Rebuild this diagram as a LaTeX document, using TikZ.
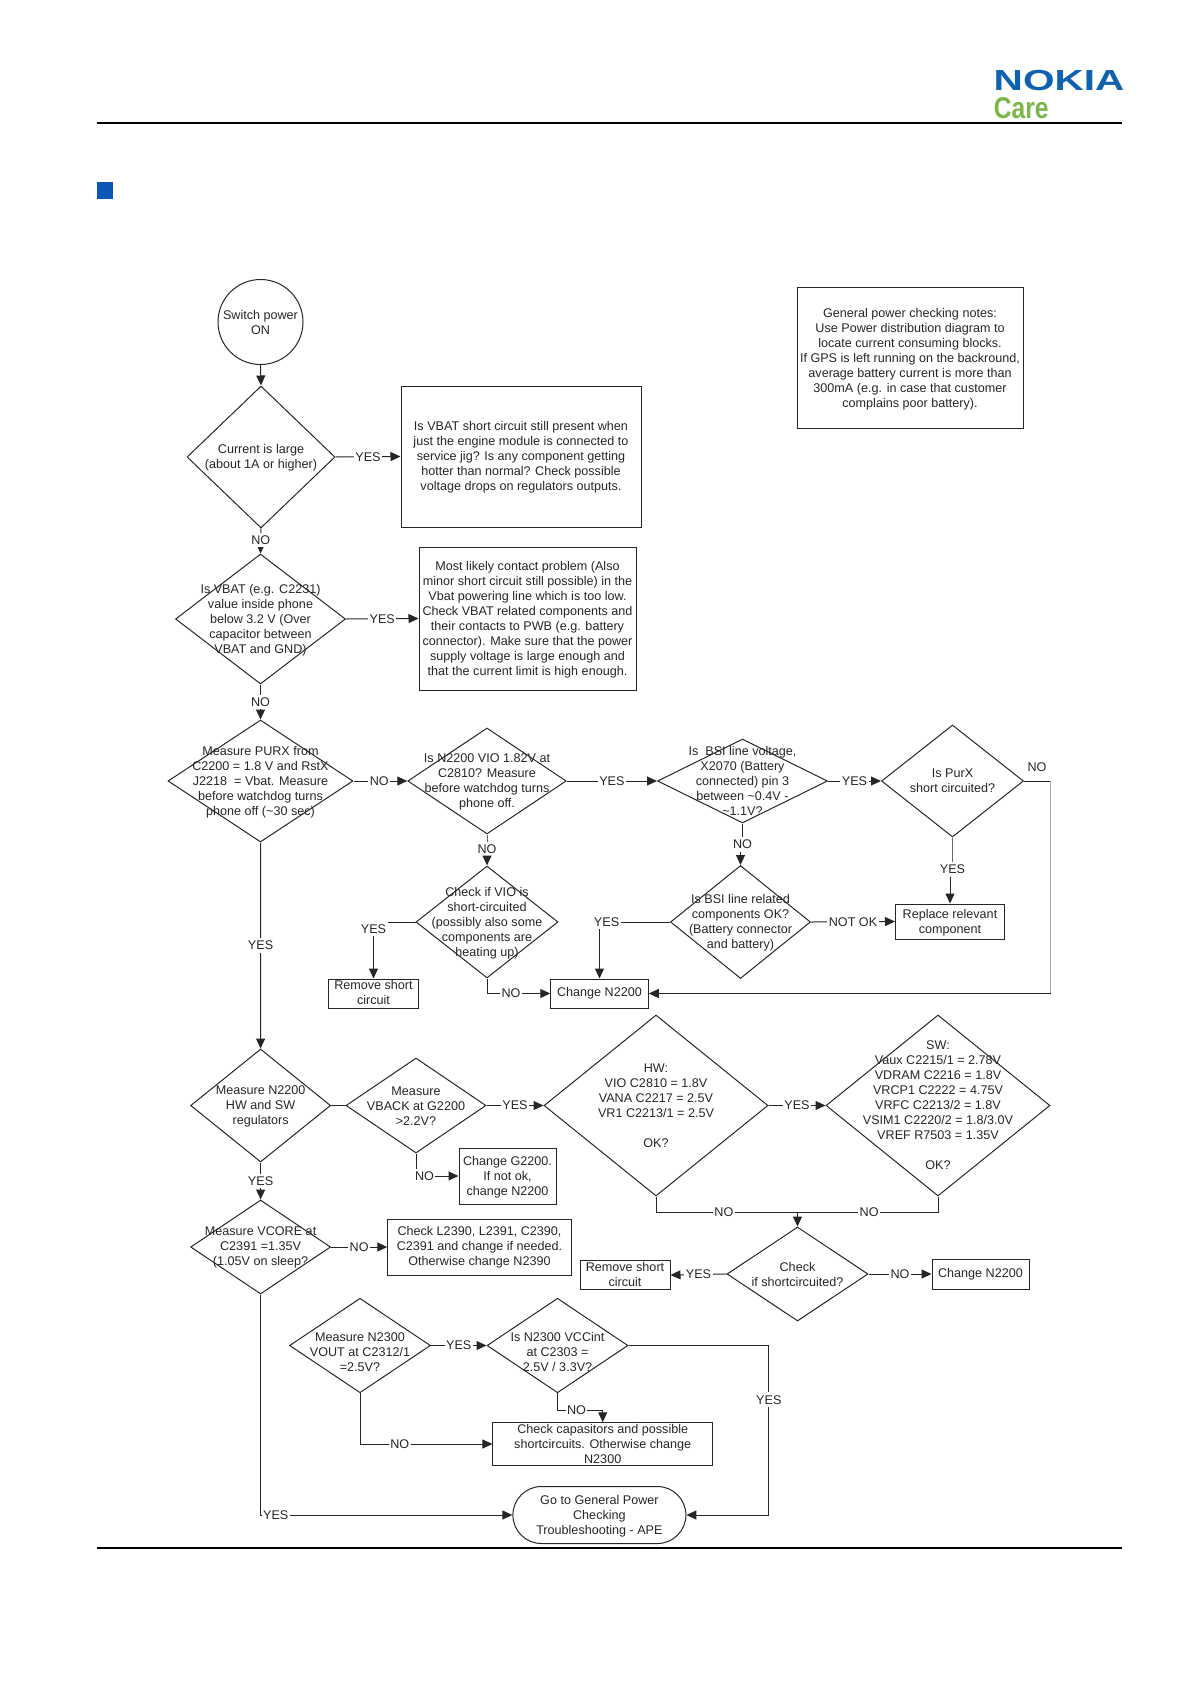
\documentclass[tikz,border=0pt]{standalone}
\usepackage{fontspec}
\setmainfont{Liberation Sans}
\usetikzlibrary{shapes.geometric,shapes.misc,arrows.meta}
\definecolor{nokiablue}{HTML}{0F62AE}
\definecolor{caregreen}{HTML}{7AB648}
\definecolor{markblue}{HTML}{0B57B8}
\tikzset{
    txt/.style={align=center, inner sep=0pt, text=black!85, font=\fontsize{12.6}{15}\selectfont},
    dtxt/.style={txt, yshift=-0.8pt},
    dia/.style 2 args={diamond, draw, inner sep=0pt, minimum width=#1pt, minimum height=#2pt},
    box/.style 2 args={rectangle, draw, txt, minimum width=#1pt, minimum height=#2pt},
    lab/.style={txt, fill=white, inner xsep=1.5pt, inner ysep=3pt},
    line/.style={line width=1pt, black!85},
    arr/.style={line, -{Triangle[length=10pt,width=9pt]}},
}
\begin{document}
\begin{tikzpicture}[x=1pt, y=-1pt, every node/.append style={line width=1pt, black!85}]
    \useasboundingbox (0,0) rectangle (1191,1684);

    % page head and foot
    \draw[line width=1.5pt, black] (96.5,123) -- (1122,123);
    \draw[line width=1.5pt, black] (96.5,1548) -- (1122,1548);
    \fill[markblue] (96.5,182) rectangle (113,199);
    \node[anchor=base west, inner sep=0pt, xscale=1.4, text=nokiablue, font=\bfseries\fontsize{29}{29}\selectfont] (logo) at (993,90.5) {NOKIA};
    \node[anchor=base west, inner sep=0pt, xscale=0.82, text=caregreen, font=\bfseries\fontsize{30}{30}\selectfont] (care) at (993.5,118) {Care};

    % top column
    \node[circle, draw, txt, minimum size=85pt] (S1) at (260.5,322) {Switch power\\ON};
    \node[dia={148}{142}, label={[dtxt]center:{Current is large\\(about 1A or higher)}}] (D1) at (261,457) {};
    \node[box={240}{141}, label={[txt, yshift=-1pt]center:{Is VBAT short circuit still present when\\just the engine module is connected to\\service jig? Is any component getting\\hotter than normal? Check possible\\voltage drops on regulators outputs.}}] (B1) at (521,456.5) {};
    \node[box={226}{141}, label={[txt, yshift=-2pt]center:{General power checking notes:\\Use Power distribution diagram to\\locate current consuming blocks.\\If GPS is left running on the backround,\\average battery current is more than\\300mA (e.g. in case that customer\\complains poor battery).}}] (N1) at (910,357.5) {};
    \node[dia={170}{130}, label={[dtxt]center:{Is VBAT (e.g. C2231)\\value inside phone\\below 3.2 V (Over\\capacitor between\\VBAT and GND)}}] (D2) at (260.5,619) {};
    \node[box={217}{143}, label={[txt, yshift=-1pt]center:{Most likely contact problem (Also\\minor short circuit still possible) in the\\Vbat powering line which is too low.\\Check VBAT related components and\\their contacts to PWB (e.g. battery\\connector). Make sure that the power\\supply voltage is large enough and\\that the current limit is high enough.}}] (B2) at (527.5,618.5) {};

    % PURX row
    \node[dia={185}{122}, label={[dtxt]center:{Measure PURX from\\C2200 = 1.8 V and RstX\\J2218\ \ = Vbat. Measure\\before watchdog turns\\phone off (\textasciitilde30 sec)}}] (D3) at (260.5,781) {};
    \node[dia={158.5}{106}, label={[dtxt]center:{Is N2200 VIO 1.82V at\\C2810? Measure\\before watchdog turns\\phone off.}}] (D4) at (487,781) {};
    \node[dia={170}{84}, label={[txt]center:{Is\ \ BSI line voltage,\\X2070 (Battery\\connected) pin 3\\between \textasciitilde0.4V -\\\textasciitilde1.1V?}}] (D5) at (742.5,781) {};
    \node[dia={142}{112}, label={[txt]center:{Is PurX\\short circuited?}}] (D6) at (952.5,781) {};
    \node[dia={142}{112}, label={[dtxt]center:{Check if VIO is\\short-circuited\\(possibly also some\\components are\\heating up)}}] (D7) at (487,922) {};
    \node[dia={140}{113}, label={[dtxt]center:{Is BSI line related\\components OK?\\(Battery connector\\and battery)}}] (D8) at (740.5,922) {};
    \node[box={89.5}{29}, label={[txt, yshift=1.5pt]center:{Remove short\\circuit}}] (R1) at (373.5,993.5) {};
    \node[box={97.5}{29}] (C1) at (599.5,993.5) {Change N2200};
    \node[box={109}{35}, label={[txt, yshift=-1pt]center:{Replace relevant\\component}}] (R2) at (950,921.5) {};

    % regulators row
    \node[dia={140}{113}, label={[dtxt]center:{Measure N2200\\HW and SW\\regulators}}] (D9) at (260.6,1105.5) {};
    \node[dia={140}{95}, label={[dtxt]center:{Measure\\VBACK at G2200\\>2.2V?}}] (D10) at (416,1105.5) {};
    \node[dia={224}{181}, label={[txt]center:{HW:\\VIO C2810 = 1.8V\\VANA C2217 = 2.5V\\VR1 C2213/1 = 2.5V\\[15pt]OK?}}] (D11) at (656,1105.5) {};
    \node[dia={224}{181}, label={[txt]center:{SW:\\Vaux C2215/1 = 2.78V\\VDRAM C2216 = 1.8V\\VRCP1 C2222 = 4.75V\\VRFC C2213/2 = 1.8V\\VSIM1 C2220/2 = 1.8/3.0V\\VREF R7503 = 1.35V\\[15pt]OK?}}] (D12) at (938,1105.5) {};
    \node[box={97}{56}, label={[txt, yshift=-1pt]center:{Change G2200.\\If not ok,\\change N2200}}] (G1) at (507.5,1176) {};
    \node[dia={140}{94}, label={[dtxt]center:{Measure VCORE at\\C2391 =1.35V\\(1.05V on sleep?}}] (D14) at (260.6,1247) {};
    \node[box={183.5}{56}] (L1) at (479.5,1247) {Check L2390, L2391, C2390,\\C2391 and change if needed.\\Otherwise change N2390};
    \node[dia={141}{94}, label={[txt]center:{Check\\if shortcircuited?}}] (D13) at (797.5,1274) {};
    \node[box={90}{28.5}, label={[txt, yshift=1pt]center:{Remove short\\circuit}}] (R3) at (625,1275) {};
    \node[box={97}{30}] (C2) at (980.5,1274) {Change N2200};

    % N2300 row
    \node[dia={141}{94.5}, label={[txt, yshift=-6.4pt]center:{Measure N2300\\VOUT at C2312/1\\=2.5V?}}] (D15) at (360,1345.5) {};
    \node[dia={141}{94.5}, label={[txt, yshift=-6.4pt]center:{Is N2300 VCCint\\at C2303 =\\2.5V / 3.3V?}}] (D16) at (557.5,1345.5) {};
    \node[box={219.5}{42.5}] (K1) at (602.7,1444) {Check capasitors and possible\\shortcircuits. Otherwise change\\N2300};
    \node[rounded rectangle, draw, minimum width=173pt, minimum height=57pt, inner xsep=6pt, label={[txt, yshift=-1pt]center:{Go to General Power\\Checking\\Troubleshooting - APE}}] (T1) at (599.4,1515) {\rule{161pt}{0pt}};

    \coordinate (c1) at (1050.6,781);
    \coordinate (c2) at (1050.6,993.5);
    \coordinate (c3) at (797.5,1212);
    \coordinate (c4) at (768.8,1515);
    \coordinate (c5) at (602.7,1410);

    % connectors
    \draw[arr] (S1.south) -- (D1.north);
    \draw[arr] (D1.east) -- node[lab] (y1) {YES} (B1.west);
    \draw[arr] (D1.south) -- node[lab, pos=.46] (n1) {NO} (D2.north);
    \draw[arr] (D2.east) -- node[lab] (y2) {YES} (B2.west);
    \draw[arr] (D2.south) -- node[lab] (n2) {NO} (D3.north);
    \draw[arr] (D3.east) -- node[lab, pos=.48] (n3) {NO} (D4.west);
    \draw[arr] (D4.east) -- node[lab] (y3) {YES} (D5.west);
    \draw[arr] (D5.east) -- node[lab] (y4) {YES} (D6.west);
    \draw[line] (D6.east) -- (c1);
    \node[lab] (n4) at (1037,767) {NO};
    \draw[line, line width=0.5pt, black!35] (c1) -- (c2);
    \draw[arr] (c2) -- (C1.east);
    \draw[line, line width=0.6pt, black!60] (D4.south) -- ++(0,15) node[lab] (n5) {NO};
    \draw[arr] (n5.south) -- (D7.north);
    \draw[line] (D5.south) -- ++(0,21) node[lab] (n6) {NO};
    \draw[arr] (D8.north |- n6.south) -- (D8.north);
    \draw[line, line width=0.6pt, black!60] (D6.south) -- ++(0,32) node[lab] (y5) {YES};
    \draw[arr] (R2.north |- y5.south) -- (R2.north);
    \draw[arr] (D7.west) -| node[lab, pos=.56] (y6) {YES} (R1.north);
    \draw[arr] (D7.south) |- node[lab, pos=.69] (n7) {NO} (C1.west);
    \draw[arr] (D8.west) -| node[lab, pos=.45] (y7) {YES} (C1.north);
    \draw[arr] (D8.east) -- node[lab] (n8) {NOT OK} (R2.west);
    \draw[arr] (D3.south) -- node[lab] (y8) {YES} (D9.north);
    \draw[line] (D9.east) -- (D10.west);
    \draw[arr] (D10.east) -- node[lab] (y9) {YES} (D11.west);
    \draw[arr] (D11.east) -- node[lab] (y10) {YES} (D12.west);
    \draw[line] (D11.south) |- node[lab, pos=.74] (n9) {NO} (c3);
    \draw[line] (D12.south) |- node[lab, pos=.745] (n10) {NO} (c3);
    \draw[arr] (c3) -- (D13.north);
    \draw[arr] (D13.west) -- node[lab] (y11) {YES} (R3.east);
    \draw[arr] (D13.east) -- node[lab] (n11) {NO} (C2.west);
    \draw[arr] (D10.south) |- node[lab, pos=.6] (n12) {NO} (G1.west);
    \draw[arr] (D9.south) -- node[lab] (y12) {YES} (D14.north);
    \draw[arr] (D14.east) -- node[lab] (n13) {NO} (L1.west);
    \draw[arr] (D14.south) |- node[lab, pos=.53] (y13) {YES} (T1.west);
    \draw[arr] (D15.east) -- node[lab] (y14) {YES} (D16.west);
    \draw[line] (D16.east) -| node[lab, pos=.66] (y15) {YES} (c4);
    \draw[arr] (c4) -- (T1.east);
    \draw[arr] (D16.south) |- node[lab, pos=.71] (n14) {NO} (c5) -- (K1.north);
    \draw[arr] (D15.south) |- node[lab, pos=.65] (n15) {NO} (K1.west);
\end{tikzpicture}
\end{document}
